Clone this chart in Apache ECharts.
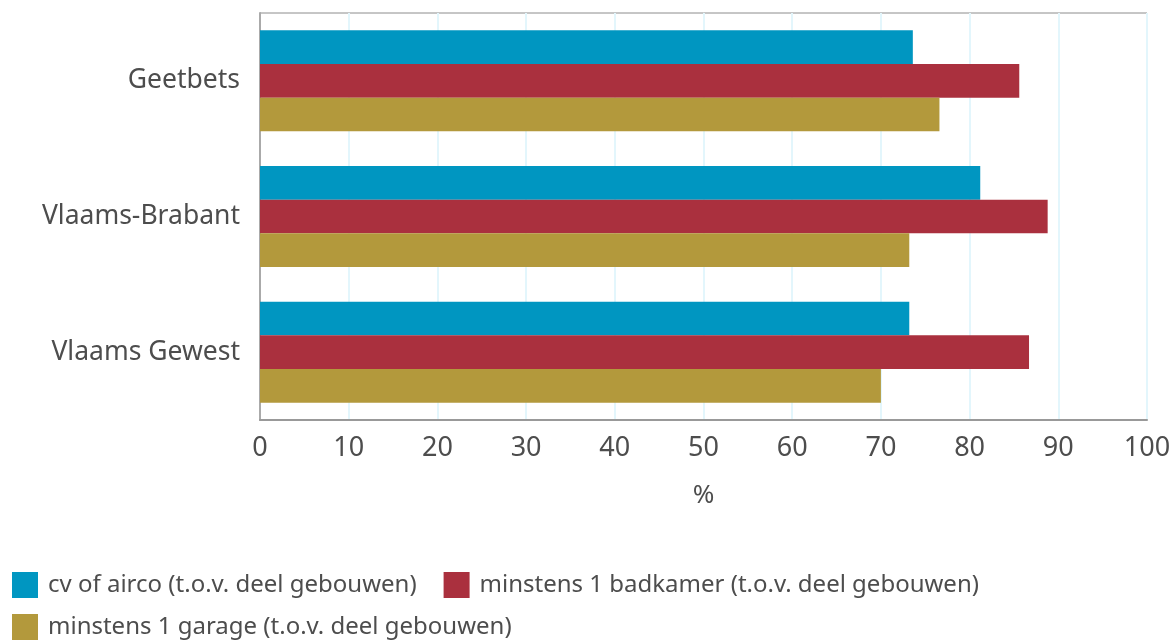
<!DOCTYPE html>
<html>
<head>
<meta charset="utf-8">
<script src="https://cdn.jsdelivr.net/npm/echarts@6/dist/echarts.min.js"></script>
<style>
html,body{margin:0;padding:0;background:#fff;}
#chart{width:1174px;height:640px;}
</style>
</head>
<body>
<div id="chart"></div>
<script>
var categories = ['Geetbets', 'Vlaams-Brabant', 'Vlaams Gewest'];
var seriesNames = ['cv of airco (t.o.v. deel gebouwen)', 'minstens 1 badkamer (t.o.v. deel gebouwen)', 'minstens 1 garage (t.o.v. deel gebouwen)'];
var cvAirco = [73.6, 81.2, 73.2];
var badkamer = [85.6, 88.8, 86.7];
var garage = [76.6, 73.2, 70.0];
var colors = ['#0096c1', '#aa303e', '#b3993c'];

var FONT = '"Noto Sans", "Open Sans", sans-serif';
var chart = echarts.init(document.getElementById('chart'), null, {renderer: 'canvas'});
var values = [cvAirco, badkamer, garage];
chart.setOption({
  animation: false,
  textStyle: {fontFamily: FONT},
  grid: {left: 260, right: 27, top: 13, bottom: 220, show: true, borderColor: '#8c8c8c', borderWidth: 1},
  legend: {
    left: 12, top: 572, width: 1150, padding: 0,
    itemWidth: 26, itemHeight: 26, itemGap: 16,
    icon: 'rect',
    textStyle: {fontFamily: FONT, fontSize: 24, lineHeight: 26, color: '#4d4d4d', padding: [0, 11, 0, 5]},
    data: seriesNames
  },
  xAxis: {
    type: 'value', min: 0, max: 100, interval: 10,
    name: '%', nameLocation: 'middle', nameGap: 63,
    nameTextStyle: {fontFamily: FONT, fontSize: 26, color: '#4d4d4d'},
    axisLine: {show: true, lineStyle: {color: '#999', width: 2}},
    axisTick: {show: false},
    axisLabel: {fontFamily: FONT, fontSize: 27, color: '#4d4d4d', margin: 15},
    splitLine: {show: true, lineStyle: {color: '#e3f6fc', width: 2}}
  },
  yAxis: {
    type: 'category', data: categories, inverse: true,
    axisLine: {show: true, lineStyle: {color: '#aaa', width: 2}},
    axisTick: {show: false},
    axisLabel: {fontFamily: FONT, fontSize: 26.5, color: '#4d4d4d', margin: 20},
    splitLine: {show: false}
  },
  series: seriesNames.map(function(n, i){
    return {
      name: n, type: 'bar', data: values[i],
      itemStyle: {color: colors[i]},
      barGap: '0%', barCategoryGap: '25.5%'
    };
  })
});
</script>
</body>
</html>
